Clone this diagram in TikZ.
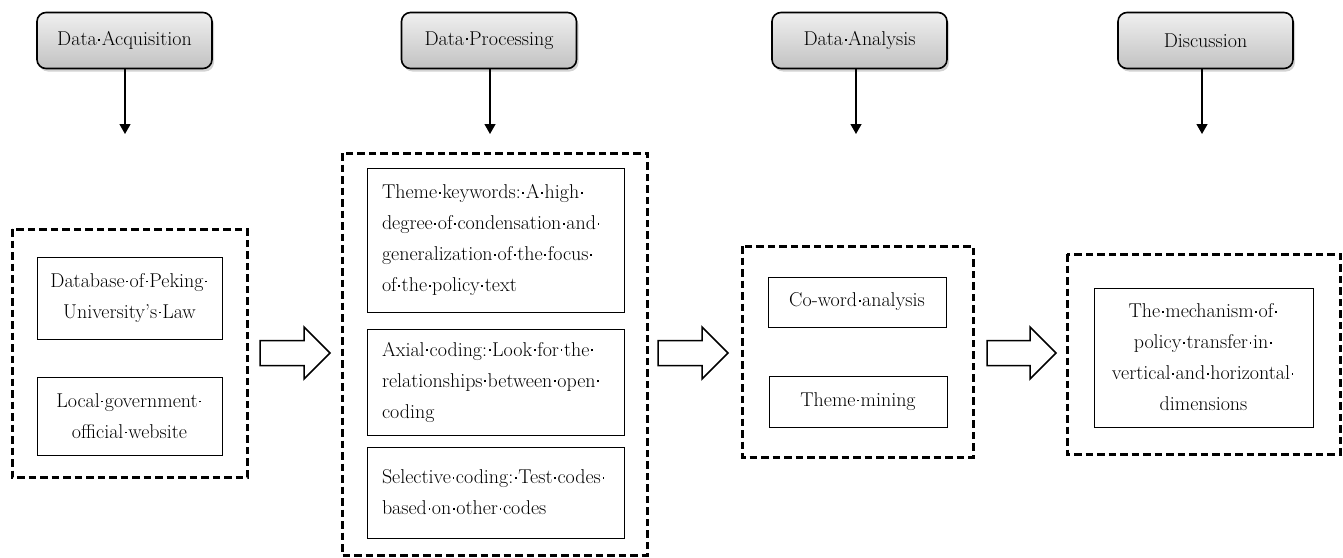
\documentclass[tikz,border=0pt]{standalone}
\usepackage{fontspec}
\usetikzlibrary{arrows.meta,shadows}

% small centred dot standing for a space
\newcommand\md{\kern0.08em\rule[0.25em]{0.09em}{0.09em}\kern0.08em}

\tikzset{
  phase/.style={draw=black, line width=1.6pt, rounded corners=9pt,
    top color=gray!12, bottom color=gray!48,
    drop shadow={shadow xshift=2pt, shadow yshift=-3pt, opacity=0.35},
    minimum width=175pt, minimum height=56pt, align=center},
  group/.style={draw=black, line width=3pt, dash pattern=on 7.5pt off 4pt},
  item/.style={draw=black, line width=0.9pt, align=center},
  itemleft/.style={draw=black, line width=0.9pt, align=left, inner xsep=15pt},
  down/.style={line width=1.3pt, -{Triangle[width=11pt,length=10pt]}},
  block/.style={draw=black, line width=1.5pt, fill=white, line join=miter}
}

% hollow block arrow: left x, right x, centre y
\newcommand\blockarrow[3]{%
  \draw[block] (#1,#3-12.5) -- (#2-26,#3-12.5) -- (#2-26,#3-26) -- (#2,#3)
    -- (#2-26,#3+26) -- (#2-26,#3+12.5) -- (#1,#3+12.5) -- cycle;}

\begin{document}
\begin{tikzpicture}[x=1pt,y=-1pt, font=\fontsize{20}{31}\selectfont]
\useasboundingbox (0,0) rectangle (1343,557);

% phase headers
\node[phase] (h1) at (124.5,40.5) {Data\md Acquisition};
\node[phase] (h2) at (489,40.5) {Data\md Processing};
\node[phase] (h3) at (859.5,40.5) {Data\md Analysis};
\node[phase] (h4) at (1205.5,40.5) {Discussion};

\coordinate (e1) at (125,134);
\coordinate (e2) at (490,134);
\coordinate (e3) at (856,134);
\coordinate (e4) at (1202,134);
\draw[down] (h1.south -| e1) -- (e1);
\draw[down] (h2.south -| e2) -- (e2);
\draw[down] (h3.south -| e3) -- (e3);
\draw[down] (h4.south -| e4) -- (e4);

% dashed groups
\draw[group] (12,229) rectangle (247,477);
\draw[group] (342,153) rectangle (647,555);
\draw[group] (742,246) rectangle (973,457);
\draw[group] (1067,254) rectangle (1340,454);

% acquisition
\node[item, minimum width=185pt, minimum height=82pt] (a1) at (129.5,298)
  {Database\md of\md Peking\md\\University’s\md Law};
\node[item, minimum width=185pt, minimum height=78pt] (a2) at (129.5,416)
  {Local\md government\md\\official\md website};

% processing
\node[itemleft, text width=227pt, minimum height=144pt] (p1) at (495.5,240)
  {Theme\md keywords:\md A\md high\md\\degree\md of\md condensation\md and\md\\generalization\md of\md the\md focus\md\\of\md the\md policy\md text};
\node[itemleft, text width=227pt, minimum height=106pt] (p2) at (495.5,382)
  {Axial\md coding:\md Look\md for\md the\md\\relationships\md between\md open\md\\coding};
\node[itemleft, text width=227pt, minimum height=91pt] (p3) at (495.5,492.5)
  {Selective\md coding:\md Test\md codes\md\\based\md on\md other\md codes};

% analysis
\node[item, minimum width=178pt, minimum height=50pt] (c1) at (857,302) {Co-word\md analysis};
\node[item, minimum width=178pt, minimum height=51pt] (c2) at (858,401.5) {Theme\md mining};

% discussion
\node[item, minimum width=219pt, minimum height=139pt] (d1) at (1203.5,357.5)
  {The\md mechanism\md of\md\\policy\md transfer\md in\md\\vertical\md and\md horizontal\md\\dimensions};

% hollow arrows between stages
\blockarrow{260}{330}{353}
\blockarrow{658}{728}{353}
\blockarrow{987}{1056}{353}
\end{tikzpicture}
\end{document}
